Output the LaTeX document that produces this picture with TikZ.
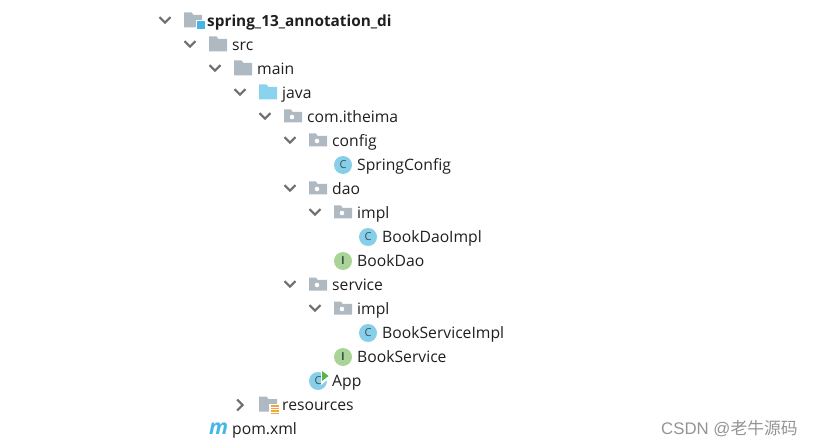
\documentclass[tikz,border=0pt]{standalone}
\usepackage{fontspec}
\setmainfont{Open Sans}
\newfontfamily\cjkwm{Noto Sans CJK SC}
\newfontfamily\wmfont{Liberation Sans}
\definecolor{foldergrey}{HTML}{AFB9C1}
\definecolor{javablue}{HTML}{8AD3EF}
\definecolor{classblue}{HTML}{87CEE8}
\definecolor{ifacegreen}{HTML}{A8D596}
\definecolor{chevgrey}{HTML}{6E6E6E}
\definecolor{lettergrey}{HTML}{3F4F58}
\definecolor{mavenblue}{HTML}{45B7E6}
\definecolor{resorange}{HTML}{F0A73A}
\definecolor{rungreen}{HTML}{4FB848}
\definecolor{squareblue}{HTML}{45B5E3}
\usetikzlibrary{positioning}

\begin{document}
\begin{tikzpicture}
[
  x=1pt, y=-1pt,
  entry/.style = {anchor = base west, inner sep = 0pt, font = \fontsize{15.7}{18}\selectfont, text = black!88},
  boldentry/.style = {entry, font = \fontsize{15.35}{18}\selectfont\bfseries},
  letter/.style = {inner sep = 0pt, font = \fontsize{11}{11}\selectfont, text = lettergrey},
  chev/.style = {draw = chevgrey, line width = 2.1pt},
  opened/.pic = {\draw[chev] (-5.5,-2.8) -- (0,2.6) -- (5.5,-2.8);},
  closed/.pic = {\draw[chev] (-2.8,-5.5) -- (2.6,0) -- (-2.8,5.5);},
  folder/.pic = {\fill[foldergrey] (-9,-7.5) -- (-1.5,-7.5) -- (0.5,-5) -- (9,-5) -- (9,7.5) -- (-9,7.5) -- cycle;},
  javafolder/.pic = {\fill[javablue] (-9,-7.5) -- (-1.5,-7.5) -- (0.5,-5) -- (9,-5) -- (9,7.5) -- (-9,7.5) -- cycle;},
  package/.pic = {\fill[foldergrey] (-9,-6.5) -- (-2,-6.5) -- (-0.5,-4.2) -- (9,-4.2) -- (9,6.5) -- (-9,6.5) -- cycle;
    \fill[white] (-1,1) circle (2.3);},
  classicon/.pic = {\fill[classblue] (0,0) circle (9);
    \node[letter] (-letter) at (0,0) {C};},
  ifaceicon/.pic = {\fill[ifacegreen] (0,0) circle (9);
    \node[letter, font = \fontsize{11}{11}\rmfamily\bfseries\selectfont] (-letter) at (0,0) {I};},
]
\useasboundingbox (0,0) rectangle (813,446);

% project root
\path (165,20) pic {opened} (193,20) pic {folder};
\fill[white] (196,20) rectangle (205,30);
\fill[squareblue] (197,21.5) rectangle (204.5,29);
\node[boldentry] (root) at (207,26.5) {spring\_13\_annotation\_di};

\path (190,44) pic {opened} (218,44) pic {folder};
\node[entry] (src) at (232,50.5) {src};

\path (215,68) pic {opened} (243,68) pic {folder};
\node[entry] (main) at (257,74.5) {main};

\path (240,92) pic {opened} (268,92) pic {javafolder};
\node[entry] (java) at (282,98.5) {java};

% packages
\path (265,116) pic {opened} (293,116) pic {package};
\node[entry] (com) at (307,122.5) {com.itheima};

\path (290,140) pic {opened} (318,140) pic {package};
\node[entry] (config) at (332,146.5) {config};

\path (343,165) pic (springicon) {classicon};
\node[entry] (springconfig) at (357,170.5) {SpringConfig};

\path (290,188) pic {opened} (318,188) pic {package};
\node[entry] (dao) at (332,194.5) {dao};

\path (315,212) pic {opened} (343,212) pic {package};
\node[entry] (daoimpl) at (357,218.5) {impl};

\path (368,237) pic (daoimplicon) {classicon};
\node[entry] (bookdaoimpl) at (382,242.5) {BookDaoImpl};

\path (343,261) pic (daoicon) {ifaceicon};
\node[entry] (bookdao) at (357,266.5) {BookDao};

\path (290,284) pic {opened} (318,284) pic {package};
\node[entry] (service) at (332,290.5) {service};

\path (315,308) pic {opened} (343,308) pic {package};
\node[entry] (serviceimpl) at (357,314.5) {impl};

\path (368,333) pic (serviceimplicon) {classicon};
\node[entry] (bookserviceimpl) at (382,338.5) {BookServiceImpl};

\path (343,357) pic (serviceicon) {ifaceicon};
\node[entry] (bookservice) at (357,362.5) {BookService};

\path (318,381) pic (appicon) {classicon};
\fill[white] (321,368.5) -- (331,377) -- (321,385) -- cycle;
\fill[rungreen] (322,371) -- (328.5,376) -- (322,381) -- cycle;
\node[entry] (app) at (332,386.5) {App};

% resources and pom
\path (240,405) pic {closed} (268,404) pic {folder};
\fill[white] (269,404) rectangle (279,415);
\foreach \y in {406,408.5,411,413.5}
  \draw[resorange, line width = 1.1pt] (271,\y) -- (278.5,\y);
\node[entry] (resources) at (282,410.5) {resources};

\node[anchor = base, inner sep = 0pt, text = mavenblue, font = \fontsize{21}{21}\selectfont\bfseries\itshape] (mavenicon) at (218.5,434.5) {m};
\node[entry] (pom) at (232,434.5) {pom.xml};

% watermark
\node[anchor = base west, inner sep = 0pt, text = black!42, font = \fontsize{16.8}{18}\wmfont] (mark) at (661,434.5) {CSDN @{\cjkwm 老牛源码}};

\end{tikzpicture}
\end{document}
